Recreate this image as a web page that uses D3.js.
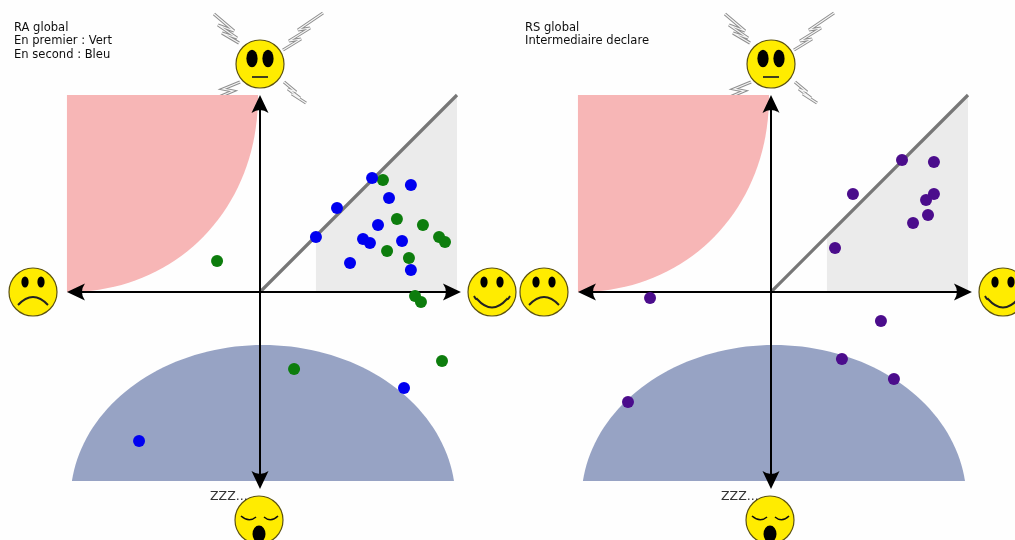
<!DOCTYPE html>
<html><head><meta charset="utf-8">
<script src="https://cdnjs.cloudflare.com/ajax/libs/d3/7.8.5/d3.min.js"></script>
<style>html,body{margin:0;padding:0;background:#fefefe;overflow:hidden}svg{display:block}</style>
</head><body><svg id="c" width="1015" height="540"></svg>
<script>
const greenX=[-0.218,0.624,0.695,0.827,0.909,0.939,0.645,0.756,0.787,0.817,0.924,0.173];
const greenY=[0.157,0.569,0.371,0.340,0.279,0.254,0.208,0.173,-0.020,-0.051,-0.350,-0.391];
const blueX=[0.569,0.766,0.655,0.391,0.599,0.284,0.523,0.558,0.721,0.457,0.766,0.731,-0.614];
const blueY=[0.579,0.543,0.477,0.426,0.340,0.279,0.269,0.249,0.259,0.147,0.112,-0.487,-0.756];
const purpleX=[0.665,0.827,0.416,0.827,0.787,0.797,0.721,0.325,-0.614,0.558,0.360,0.624,-0.726];
const purpleY=[0.670,0.660,0.497,0.497,0.467,0.391,0.350,0.223,-0.030,-0.147,-0.340,-0.442,-0.558];
const titleLeft=["RA global","En premier : Vert","En second : Bleu"];
const titleRight=["RS global","Intermediaire declare"];
const sleepLabel="ZZZ...";

const svg=d3.select("#c");
const defs=svg.append("defs");
defs.append("filter").attr("id","soft").attr("x","-5%").attr("y","-5%").attr("width","110%").attr("height","110%")
  .append("feGaussianBlur").attr("stdDeviation",0.45);
const root=svg.append("g").attr("filter","url(#soft)");
const R=197;

function bolt(g,pts){
  const d=d3.line()(pts);
  g.append("path").attr("d",d).attr("fill","none").attr("stroke","#8f8f8f").attr("stroke-width",3.2).attr("stroke-linejoin","miter");
  g.append("path").attr("d",d).attr("fill","none").attr("stroke","#f6f6f6").attr("stroke-width",1.2);
}
function face(g,cx,cy,kind){
  const f=g.append("g").attr("transform",`translate(${cx},${cy})`);
  f.append("circle").attr("r",24).attr("fill","#ffec00").attr("stroke","#5c5210").attr("stroke-width",1.2);
  if(kind==="sleep"){
    const lid=d3.path();lid.moveTo(-18,-4);lid.quadraticCurveTo(-10,3,-3,-3);lid.moveTo(5,-3);lid.quadraticCurveTo(12,3,19,-4);
    f.append("path").attr("d",lid.toString()).attr("fill","none").attr("stroke","#111").attr("stroke-width",1.6);
    f.append("ellipse").attr("cx",0).attr("cy",14).attr("rx",6.5).attr("ry",8.5).attr("fill","#000");
    return;
  }
  if(kind==="neutral"){
    f.selectAll("e").data([-8,8]).join("ellipse").attr("cx",d=>d).attr("cy",-5.5).attr("rx",5.6).attr("ry",8.8).attr("fill","#000");
    f.append("line").attr("x1",-8).attr("x2",8).attr("y1",13).attr("y2",13).attr("stroke","#222").attr("stroke-width",1.7);
    return;
  }
  f.selectAll("e").data([-8,8]).join("ellipse").attr("cx",d=>d).attr("cy",-10).attr("rx",3.6).attr("ry",5.6).attr("fill","#000");
  const m=d3.path();
  if(kind==="happy"){m.moveTo(-18,4);m.quadraticCurveTo(-16,8,-15,7);m.quadraticCurveTo(0,24,15,7);m.quadraticCurveTo(16,8,18,4);}
  else{m.moveTo(-15,13);m.quadraticCurveTo(0,-3,15,13);}
  f.append("path").attr("d",m.toString()).attr("fill","none").attr("stroke","#222").attr("stroke-width",1.9);
}
function panel(ox,lines,series){
  const g=root.append("g");
  const x=d3.scaleLinear().domain([-1,1]).range([ox-R,ox+R]);
  const y=d3.scaleLinear().domain([1,-1]).range([292-R,292+R]);
  const lineXY=d3.line().x(d=>x(d[0])).y(d=>y(d[1]));
  // bolts (lower left one passes under the pink zone)
  bolt(g,[[ox-46,14],[ox-26,31],[ox-42,25],[ox-23,38],[ox-38,33],[ox-21,43]]);
  bolt(g,[[ox+63,13],[ox+38,30],[ox+50,28],[ox+29,41],[ox+41,39],[ox+23,50]]);
  bolt(g,[[ox-48,100],[ox-27,91],[ox-37,89],[ox-20,82]]);
  bolt(g,[[ox+24,82],[ox+36,92],[ox+28,89],[ox+40,98],[ox+32,94],[ox+46,103]]);
  // pink zone
  const left=-0.98, rx=0.97, p=2.08;
  const arc=d3.range(0,Math.PI/2+.001,Math.PI/80).map(t=>[left+rx*Math.pow(Math.sin(t),2/p),1-Math.pow(Math.cos(t),2/p)]);
  g.append("path").attr("d",lineXY([[left,1]].concat(arc))+"Z").attr("fill","#f7b6b6");
  // blue zone
  const cyB=-1.056, ryB=0.787, rxB=0.977, cxB=0.015, t0=Math.asin((-0.96-cyB)/ryB);
  const blob=d3.range(t0,Math.PI-t0+.001,(Math.PI-2*t0)/80).map(t=>[cxB-rxB*Math.cos(t),cyB+ryB*Math.sin(t)]);
  g.append("path").attr("d",lineXY(blob)+"Z").attr("fill","#97a3c4");
  // gray zone
  g.append("path").attr("d",lineXY([[0.284,0],[1,0],[1,1],[0.284,0.284]])+"Z").attr("fill","#ebebeb");
  g.append("line").attr("x1",x(0)).attr("y1",y(0)).attr("x2",x(1)).attr("y2",y(1)).attr("stroke","#777").attr("stroke-width",3.2);
  // axes
  const ax=g.append("g");
  const xEnds=[x(-0.98),x(1.02)],yEnds=[y(1),y(-1)];
  ax.append("line").attr("x1",xEnds[0]+4).attr("x2",xEnds[1]-4).attr("y1",y(0)).attr("y2",y(0)).attr("stroke","#000").attr("stroke-width",2);
  ax.append("line").attr("x1",x(0)).attr("x2",x(0)).attr("y1",yEnds[0]+4).attr("y2",yEnds[1]-4).attr("stroke","#000").attr("stroke-width",2);
  const head="M0,0 L-18,-8.5 Q-12,0 -18,8.5 Z";
  [[xEnds[1],y(0),0],[xEnds[0],y(0),180],[x(0),yEnds[0],-90],[x(0),yEnds[1],90]].forEach(d=>
    ax.append("path").attr("d",head).attr("transform",`translate(${d[0]},${d[1]}) rotate(${d[2]})`).attr("fill","#000"));
  // faces
  face(g,ox,64,"neutral");
  face(g,ox-227,292,"sad");
  face(g,ox+232,292,"happy");
  face(g,ox-1,520,"sleep");
  g.append("text").attr("x",ox-50).attr("y",500).attr("font-family","DejaVu Sans").attr("font-size",12.5).attr("fill","#333").text(sleepLabel);
  // points
  series.forEach(s=>{
    g.append("g").selectAll("circle").data(s.xs).join("circle")
      .attr("cx",d=>x(d)).attr("cy",(d,i)=>y(s.ys[i])).attr("r",6).attr("fill",s.color);
  });
  // title
  g.append("g").selectAll("text").data(lines).join("text")
    .attr("x",ox-246).attr("y",(d,i)=>31+i*13.3).attr("font-family","DejaVu Sans").attr("font-size",11.55).attr("fill","#111").text(d=>d);
}
panel(260,titleLeft,[{xs:greenX,ys:greenY,color:"#0a7d0a"},{xs:blueX,ys:blueY,color:"#0000f0"}]);
panel(771,titleRight,[{xs:purpleX,ys:purpleY,color:"#4b0a8c"}]);
</script></body></html>
